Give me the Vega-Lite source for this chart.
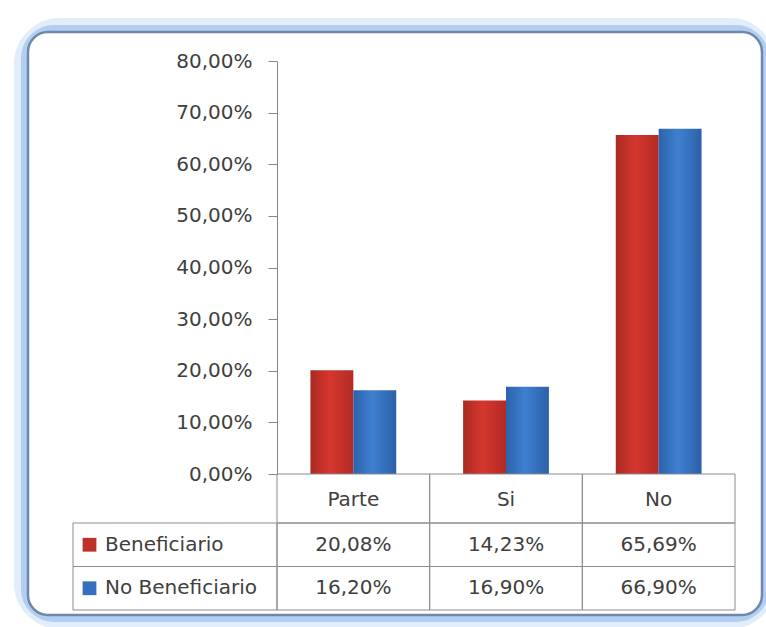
{
  "$schema": "https://vega.github.io/schema/vega-lite/v6.json",
  "width": 734,
  "height": 583,
  "autosize": {"type": "none"},
  "padding": {"left": 28, "top": 32, "right": 4, "bottom": 12},
  "background": "white",
  "config": {"view": {"stroke": null}, "font": "DejaVu Sans"},
  "data": {
    "values": [
      {"cat": "Parte", "serie": "Beneficiario", "value": 0.2008},
      {"cat": "Si", "serie": "Beneficiario", "value": 0.1423},
      {"cat": "No", "serie": "Beneficiario", "value": 0.6569},
      {"cat": "Parte", "serie": "No Beneficiario", "value": 0.162},
      {"cat": "Si", "serie": "No Beneficiario", "value": 0.169},
      {"cat": "No", "serie": "No Beneficiario", "value": 0.669}
    ]
  },
  "resolve": {
    "scale": {"x": "independent", "y": "independent"},
    "axis": {"x": "independent", "y": "independent"}
  },
  "layer": [
    {
      "data": {"values": [{}]},
      "mark": {"type": "rect", "fill": "transparent", "stroke": "#e2edfa", "strokeWidth": 28, "cornerRadius": 32},
      "encoding": {}
    },
    {
      "data": {"values": [{}]},
      "mark": {"type": "rect", "fill": "transparent", "stroke": "#b2cef0", "strokeWidth": 14, "cornerRadius": 26},
      "encoding": {}
    },
    {
      "data": {"values": [{}]},
      "mark": {"type": "rect", "fill": "white", "stroke": "#6f87a8", "strokeWidth": 2.5, "cornerRadius": 20},
      "encoding": {}
    },
    {
      "mark": {"type": "bar"},
      "encoding": {
        "x": {
          "field": "cat", "type": "nominal", "sort": ["Parte", "Si", "No"],
          "scale": {"range": [249, 707], "paddingInner": 0.438, "paddingOuter": 0.219},
          "axis": null
        },
        "xOffset": {
          "field": "serie", "type": "nominal", "sort": ["Beneficiario", "No Beneficiario"],
          "scale": {"paddingInner": 0, "paddingOuter": 0}
        },
        "y": {
          "field": "value", "type": "quantitative",
          "scale": {"domain": [0, 0.8], "range": [442, 29], "nice": false},
          "axis": {
            "orient": "left", "offset": -249, "title": null, "grid": false, "zindex": 2,
            "values": [0, 0.1, 0.2, 0.3, 0.4, 0.5, 0.6, 0.7, 0.8],
            "labelExpr": "replace(format(datum.value, '.2%'), '.', ',')",
            "tickSize": 9, "labelPadding": 16,
            "domainColor": "#878787", "tickColor": "#878787",
            "labelColor": "#404040", "labelFont": "DejaVu Sans", "labelFontSize": 20
          }
        },
        "fill": {
          "condition": {
            "test": "datum.serie === 'Beneficiario'",
            "value": {"gradient": "linear", "x1": 0, "x2": 1, "y1": 0, "y2": 0,
              "stops": [{"offset": 0, "color": "#a92a24"}, {"offset": 0.45, "color": "#d5372d"}, {"offset": 1, "color": "#b22b26"}]}
          },
          "value": {"gradient": "linear", "x1": 0, "x2": 1, "y1": 0, "y2": 0,
            "stops": [{"offset": 0, "color": "#2c62ab"}, {"offset": 0.45, "color": "#3e80d0"}, {"offset": 1, "color": "#2d60a8"}]}
        }
      }
    },
    {
      "transform": [{"filter": "datum.serie === 'Beneficiario'"}],
      "mark": {"type": "rect", "fill": "transparent", "stroke": "#8c8c8c", "strokeWidth": 1},
      "encoding": {
        "x": {"field": "cat", "type": "nominal", "sort": ["Parte", "Si", "No"],
          "scale": {"range": [249, 707], "paddingInner": 0, "paddingOuter": 0}, "axis": null},
        "y": {"datum": "hdr", "type": "nominal",
          "scale": {"range": [442, 491], "paddingInner": 0, "paddingOuter": 0}, "axis": null}
      }
    },
    {
      "transform": [{"filter": "datum.serie === 'Beneficiario'"}],
      "mark": {"type": "text", "fontSize": 20, "color": "#404040", "font": "DejaVu Sans", "dy": 1},
      "encoding": {
        "x": {"field": "cat", "type": "nominal", "sort": ["Parte", "Si", "No"],
          "scale": {"range": [249, 707], "paddingInner": 0, "paddingOuter": 0}, "axis": null},
        "y": {"datum": "hdr", "type": "nominal",
          "scale": {"range": [442, 491], "paddingInner": 0, "paddingOuter": 0}, "axis": null},
        "text": {"field": "cat"}
      }
    },
    {
      "transform": [{"filter": "datum.cat === 'Parte'"}],
      "mark": {"type": "rect", "fill": "transparent", "stroke": "#8c8c8c", "strokeWidth": 1},
      "encoding": {
        "x": {"datum": "lbl", "type": "nominal",
          "scale": {"range": [45, 249], "paddingInner": 0, "paddingOuter": 0}, "axis": null},
        "y": {"field": "serie", "type": "nominal", "sort": ["Beneficiario", "No Beneficiario"],
          "scale": {"range": [491, 578], "paddingInner": 0, "paddingOuter": 0}, "axis": null}
      }
    },
    {
      "transform": [{"filter": "datum.cat === 'Parte'"}],
      "mark": {"type": "square", "size": 190, "filled": true, "opacity": 1},
      "encoding": {
        "x": {"datum": "icon", "type": "nominal",
          "scale": {"range": [54, 69], "paddingInner": 0, "paddingOuter": 0}, "axis": null},
        "y": {"field": "serie", "type": "nominal", "sort": ["Beneficiario", "No Beneficiario"],
          "scale": {"range": [491, 578], "paddingInner": 0, "paddingOuter": 0}, "axis": null},
        "color": {"field": "serie", "type": "nominal",
          "scale": {"domain": ["Beneficiario", "No Beneficiario"], "range": ["#c0302a", "#3570c0"]}, "legend": null}
      }
    },
    {
      "transform": [{"filter": "datum.cat === 'Parte'"}],
      "mark": {"type": "text", "fontSize": 20, "color": "#404040", "font": "DejaVu Sans", "align": "left", "dx": -70},
      "encoding": {
        "x": {"datum": "lbl", "type": "nominal",
          "scale": {"range": [45, 249], "paddingInner": 0, "paddingOuter": 0}, "axis": null},
        "y": {"field": "serie", "type": "nominal", "sort": ["Beneficiario", "No Beneficiario"],
          "scale": {"range": [491, 578], "paddingInner": 0, "paddingOuter": 0}, "axis": null},
        "text": {"field": "serie"}
      }
    },
    {
      "mark": {"type": "rect", "fill": "transparent", "stroke": "#8c8c8c", "strokeWidth": 1},
      "encoding": {
        "x": {"field": "cat", "type": "nominal", "sort": ["Parte", "Si", "No"],
          "scale": {"range": [249, 707], "paddingInner": 0, "paddingOuter": 0}, "axis": null},
        "y": {"field": "serie", "type": "nominal", "sort": ["Beneficiario", "No Beneficiario"],
          "scale": {"range": [491, 578], "paddingInner": 0, "paddingOuter": 0}, "axis": null}
      }
    },
    {
      "transform": [{"calculate": "replace(format(datum.value, '.2%'), '.', ',')", "as": "label"}],
      "mark": {"type": "text", "fontSize": 20, "color": "#404040", "font": "DejaVu Sans"},
      "encoding": {
        "x": {"field": "cat", "type": "nominal", "sort": ["Parte", "Si", "No"],
          "scale": {"range": [249, 707], "paddingInner": 0, "paddingOuter": 0}, "axis": null},
        "y": {"field": "serie", "type": "nominal", "sort": ["Beneficiario", "No Beneficiario"],
          "scale": {"range": [491, 578], "paddingInner": 0, "paddingOuter": 0}, "axis": null},
        "text": {"field": "label"}
      }
    }
  ]
}
